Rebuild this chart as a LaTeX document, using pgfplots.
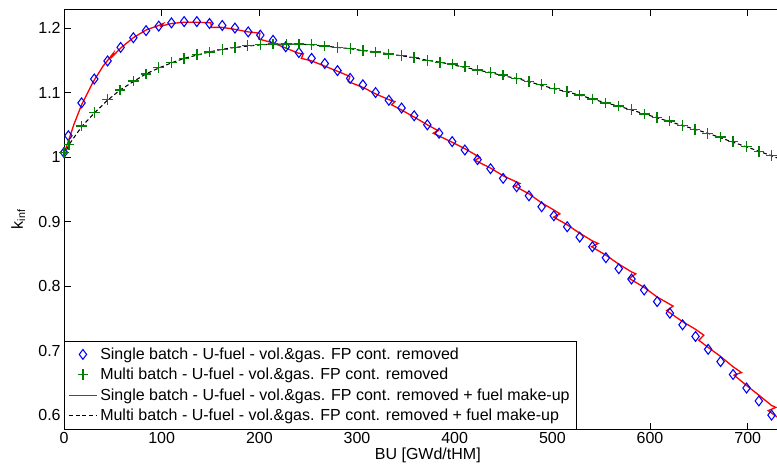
\documentclass[border=0pt]{standalone}
\usepackage{pgfplots}
\pgfplotsset{compat=1.18}
\usepackage{fontspec}
\setmainfont{Liberation Sans}
\definecolor{mgreen}{RGB}{0,128,0}
\begin{document}
\begin{tikzpicture}[font=\fontsize{12}{14.4}\selectfont]
\begin{axis}[
  name=ax,
  scale only axis,
  width=545.74pt, height=315pt,
  xmin=0, xmax=745, ymin=0.578, ymax=1.229,
  xtick={0,100,200,300,400,500,600,700},
  xticklabels={0,100,200,300,400,500,600,700},
  ytick={0.6,0.7,0.8,0.9,1.0,1.1,1.2},
  yticklabels={0.6,0.7,0.8,0.9,1,1.1,1.2},
  tick align=inside,
  major tick length=5pt,
  xtick pos=both, ytick pos=both,
  axis line style={line width=0.6pt},
  every tick/.style={black, line width=0.5pt},
  xticklabel style={yshift=1pt},
  yticklabel style={xshift=1pt},
  xlabel={BU [GWd/tHM]},
  ylabel={k\textsubscript{inf}},
  xlabel style={yshift=4pt},
  ylabel style={yshift=3pt},
  legend style={at={(0,0)}, anchor=south west, draw=black,
    font=\fontsize{12}{14.4}\selectfont, cells={anchor=west}, row sep=1.1pt,
    inner xsep=3pt, inner ysep=3pt},
  legend image code/.code={\draw[mark repeat=2,mark phase=2,#1] plot coordinates {(0pt,0pt)(10.5pt,0pt)(21pt,0pt)};},
]
% Single batch diamonds
\addplot[only marks, mark=diamond, mark size=3.7pt, blue, mark options={line width=0.8pt}] coordinates {
(0,1.007)(4.5,1.033)(18,1.084)(31,1.121)(44.6,1.149)(58,1.170)(71,1.185)(84,1.196)(97,1.203)(110,1.208)
(123,1.210)(136,1.210)(149,1.207)(162,1.204)(175,1.200)(188.6,1.194)(201,1.189)(214,1.181)(227,1.171)
(240.5,1.162)(253.5,1.153)(267,1.145)(280,1.134)(293,1.122)(306,1.112)(319,1.100)(332.6,1.088)(345.6,1.076)
(358.5,1.064)(372,1.050)(384,1.037)(397.4,1.024)(410.4,1.011)(423.4,0.996)(436.7,0.982)(449.6,0.967)
(463.4,0.954)(476,0.940)(489,0.923)(501.5,0.909)(515.2,0.892)(528,0.876)(541,0.861)(554.8,0.844)
(568,0.827)(581,0.811)(594,0.794)(607.3,0.776)(620.3,0.758)(633.3,0.740)(646.6,0.722)(659.5,0.702)
(672.2,0.683)(685,0.663)(698.8,0.642)(711.4,0.622)(724.4,0.600)
};
\addlegendentry{Single batch - U-fuel - vol.\&gas. FP cont. removed}
% Multi batch crosses
\addplot[only marks, mark=+, mark size=4pt, mgreen, mark options={line width=1pt}] coordinates {
(0,1.007)(5,1.020)(18,1.048)(31.5,1.069)(44.5,1.089)(57.5,1.104)(71,1.118)(84,1.129)(97,1.139)(110,1.147)
(123,1.153)(136,1.159)(149,1.163)(162,1.167)(175,1.170)(188,1.173)(201,1.174)(214,1.175)(227.5,1.175)
(240.5,1.175)(253.5,1.174)(267,1.172)(280,1.170)(293,1.168)(306,1.165)(319,1.163)(332.5,1.160)(345.5,1.157)
(358.5,1.154)(372,1.150)(385,1.147)(398,1.144)(410.5,1.140)(423.5,1.135)(436.5,1.131)(449.5,1.127)
(463,1.122)(476,1.117)(489,1.112)(502,1.106)(515,1.102)(528,1.096)(541,1.090)(554.5,1.084)(568,1.079)
(581,1.074)(594,1.067)(607,1.061)(620,1.056)(633,1.049)(646,1.043)(659,1.037)(672,1.031)(685,1.024)
(698.5,1.016)(711.5,1.009)(724.5,1.002)
};
\addlegendentry{Multi batch - U-fuel - vol.\&gas. FP cont. removed}
% Single batch + make-up (red sawtooth)
\addplot[red, line width=1pt, mark=none,
  legend image code/.code={\draw[red, line width=1pt] (0pt,0pt) -- (21pt,0pt);}] coordinates {
(0,1.005)(5,1.027)(10,1.050)(18,1.081)(30,1.117)(40,1.141)(50.5,1.161)
(49,1.155)(58,1.169)(71,1.185)(84,1.197)(97,1.204)(101.6,1.207)
(99.5,1.203)(110,1.207)(123,1.209)(136,1.209)(150.5,1.208)
(150.8,1.201)(162,1.201)(175,1.198)(188.6,1.194)(200.6,1.192)
(199.5,1.183)(214,1.177)(227,1.169)(240,1.161)(245,1.160)
(243,1.153)(253.5,1.149)(267,1.141)(280,1.133)(292.7,1.125)
(291,1.117)(306,1.108)(319,1.098)(332.6,1.089)(338.8,1.086)
(335.4,1.081)(345.6,1.073)(358.5,1.062)(372,1.050)(383,1.041)
(378,1.037)(397.4,1.023)(410.4,1.013)(425.8,0.9995)
(420.7,0.995)(436.7,0.983)(449.6,0.971)(466.7,0.959)
(461.6,0.955)(476,0.943)(489,0.929)(501.5,0.918)(507.7,0.912)
(501.3,0.907)(515.2,0.895)(528,0.882)(541,0.870)(546.9,0.866)
(540.1,0.861)(554.8,0.848)(568,0.834)(581,0.822)(585.5,0.819)
(578.6,0.812)(594,0.798)(607.3,0.783)(623.6,0.769)
(617,0.762)(633.3,0.745)(646.6,0.733)(655,0.724)
(650,0.716)(659.5,0.705)(672.2,0.691)(685,0.675)(693.6,0.666)
(686,0.662)(698.8,0.646)(711.4,0.631)(724.4,0.615)(728.8,0.612)
(721,0.607)(745,0.581)
};
\addlegendentry{Single batch - U-fuel - vol.\&gas. FP cont. removed + fuel make-up}
% Multi batch + make-up (black dashed)
\addplot[black, line width=0.8pt, dash pattern=on 3pt off 2pt, mark=none,
  legend image code/.code={\draw[black, line width=0.8pt, dash pattern=on 3pt off 2pt] (0pt,0pt) -- (21pt,0pt);}] coordinates {
(0,1.002)(5,1.019)(18,1.047)(31.5,1.069)(44.5,1.088)(57.5,1.104)(71,1.117)(84,1.129)(97,1.138)(110,1.146)
(123,1.153)(136,1.158)(149,1.163)(162,1.167)(175,1.170)(188,1.172)(201,1.174)(214,1.175)(227.5,1.175)
(240.5,1.175)(253.5,1.174)(267,1.172)(280,1.170)(293,1.168)(306,1.165)(319,1.163)(332.5,1.160)(345.5,1.157)
(358.5,1.154)(372,1.150)(385,1.147)(398,1.143)(410.5,1.139)(423.5,1.135)(436.5,1.131)(449.5,1.126)
(463,1.122)(476,1.117)(489,1.111)(502,1.106)(515,1.101)(528,1.096)(541,1.090)(554.5,1.084)(568,1.079)
(581,1.073)(594,1.067)(607,1.061)(620,1.055)(633,1.049)(646,1.043)(659,1.037)(672,1.030)(685,1.023)
(698.5,1.016)(711.5,1.009)(724.5,1.002)(745,0.990)
};
\addlegendentry{Multi batch - U-fuel - vol.\&gas. FP cont. removed + fuel make-up}
\end{axis}
\pgfresetboundingbox
\path[use as bounding box] ([xshift=-48pt,yshift=-30.75pt]ax.south west) rectangle ([xshift=534.75pt,yshift=322pt]ax.south west);
\end{tikzpicture}
\end{document}
